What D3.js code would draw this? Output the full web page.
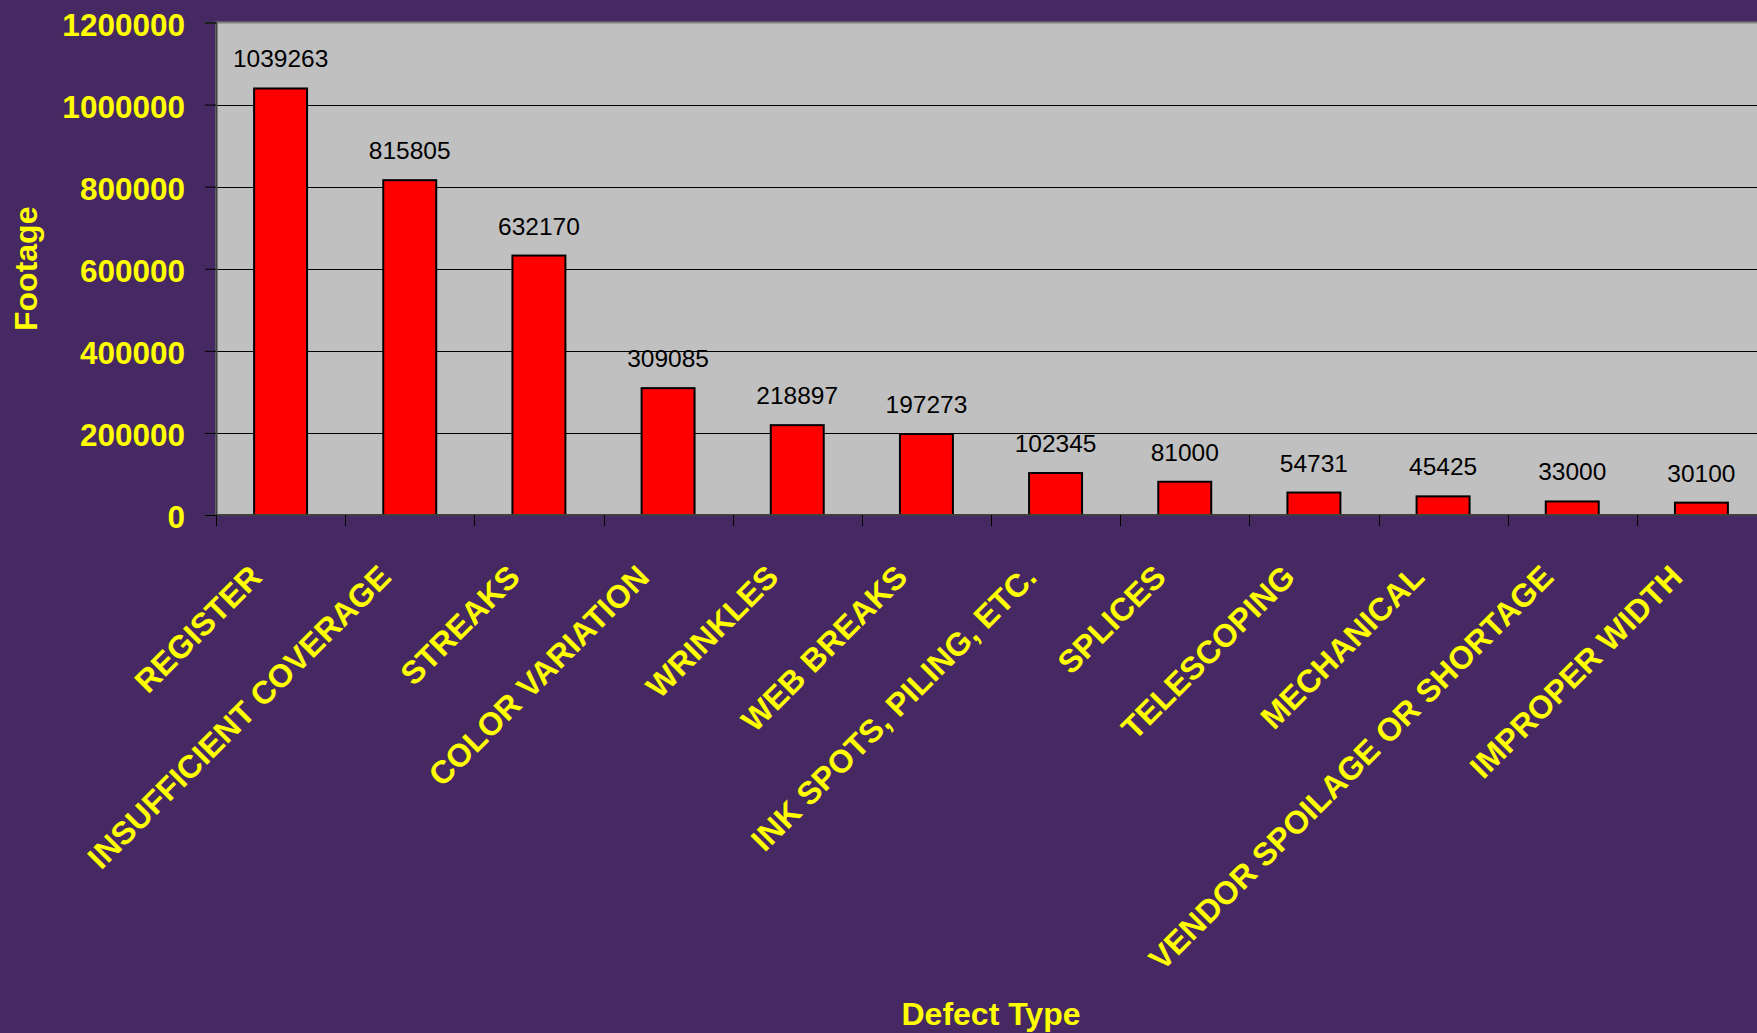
<!DOCTYPE html>
<html>
<head>
<meta charset="utf-8">
<script src="https://cdn.jsdelivr.net/npm/d3@7"></script>
<style>
  html, body { margin: 0; padding: 0; background: #462862; overflow: hidden; }
  text { font-family: "Liberation Sans", Arial, sans-serif; }
</style>
</head>
<body>
<div id="chart"></div>
<script>
var categories = ["REGISTER", "INSUFFICIENT COVERAGE", "STREAKS", "COLOR VARIATION", "WRINKLES",
  "WEB BREAKS", "INK SPOTS, PILING, ETC.", "SPLICES", "TELESCOPING", "MECHANICAL",
  "VENDOR SPOILAGE OR SHORTAGE", "IMPROPER WIDTH"];
var footage = [1039263, 815805, 632170, 309085, 218897, 197273, 102345, 81000, 54731, 45425, 33000, 30100];
var yTicks = [0, 200000, 400000, 600000, 800000, 1000000, 1200000];

var WIDTH = 1757, HEIGHT = 1033;
var plotLeft = 216, plotRight = 1766, plotTop = 22.5, plotBottom = 515;

var svg = d3.select("#chart").append("svg")
  .attr("width", WIDTH)
  .attr("height", HEIGHT);

svg.append("rect")
  .attr("width", WIDTH).attr("height", HEIGHT)
  .attr("fill", "#462862");

var x = d3.scaleBand()
  .domain(categories)
  .range([plotLeft, plotRight]);

var y = d3.scaleLinear()
  .domain([0, 1200000])
  .range([plotBottom, plotTop]);

// plot area
svg.append("rect")
  .attr("x", plotLeft).attr("y", plotTop)
  .attr("width", plotRight - plotLeft).attr("height", plotBottom - plotTop)
  .attr("fill", "#c0c0c0")
  .attr("stroke", "#808080")
  .attr("stroke-width", 2);

// gridlines
svg.append("g")
  .selectAll("line")
  .data(yTicks.filter(function(d) { return d > 0 && d < 1200000; }))
  .enter().append("line")
  .attr("x1", plotLeft).attr("x2", plotRight)
  .attr("y1", function(d) { return Math.round(y(d)) + 0.5; })
  .attr("y2", function(d) { return Math.round(y(d)) + 0.5; })
  .attr("stroke", "#000")
  .attr("stroke-width", 1);

// bars
var barW = x.bandwidth() * 0.41;
svg.append("g")
  .selectAll("rect")
  .data(footage)
  .enter().append("rect")
  .attr("x", function(d, i) { return x(categories[i]) + (x.bandwidth() - barW) / 2; })
  .attr("y", function(d) { return y(d); })
  .attr("width", barW)
  .attr("height", function(d) { return plotBottom - y(d); })
  .attr("fill", "#ff0000")
  .attr("stroke", "#000")
  .attr("stroke-width", 2);

// value labels
svg.append("g")
  .selectAll("text")
  .data(footage)
  .enter().append("text")
  .attr("x", function(d, i) { return x(categories[i]) + x.bandwidth() / 2; })
  .attr("y", function(d) { return y(d) - 21; })
  .attr("text-anchor", "middle")
  .attr("font-size", "24.5px")
  .attr("fill", "#000")
  .text(function(d) { return d; });

// y axis
var yAxis = svg.append("g")
  .attr("transform", "translate(" + plotLeft + ",0)")
  .call(d3.axisLeft(y).tickValues(yTicks).tickSize(11).tickPadding(20).tickFormat(d3.format("d")));
yAxis.select(".domain").attr("stroke", "#404040").attr("stroke-width", 2);
yAxis.selectAll(".tick line").attr("stroke", "#000");
yAxis.selectAll(".tick text")
  .attr("fill", "#ffff00")
  .attr("font-size", "31.5px")
  .attr("font-weight", "bold")
  .attr("font-family", "'Liberation Sans', Arial, sans-serif")
  .attr("dy", "12.5px");

// x axis line and ticks at category boundaries
svg.append("line")
  .attr("x1", plotLeft).attr("x2", plotRight)
  .attr("y1", plotBottom).attr("y2", plotBottom)
  .attr("stroke", "#404040").attr("stroke-width", 2);

svg.append("g")
  .selectAll("line")
  .data(categories)
  .enter().append("line")
  .attr("x1", function(d) { return Math.round(x(d)) + 0.5; })
  .attr("x2", function(d) { return Math.round(x(d)) + 0.5; })
  .attr("y1", plotBottom).attr("y2", plotBottom + 11)
  .attr("stroke", "#000");

// category labels, rotated
svg.append("g")
  .selectAll("text")
  .data(categories)
  .enter().append("text")
  .attr("transform", function(d) {
    return "translate(" + (x(d) + x.bandwidth() / 2 - 17) + "," + 579 + ") rotate(-45)";
  })
  .attr("text-anchor", "end")
  .attr("font-size", "32px")
  .attr("font-weight", "bold")
  .attr("fill", "#ffff00")
  .text(function(d) { return d; });

// axis titles
svg.append("text")
  .attr("x", (plotLeft + plotRight) / 2)
  .attr("y", 1025)
  .attr("text-anchor", "middle")
  .attr("font-size", "32px")
  .attr("font-weight", "bold")
  .attr("fill", "#ffff00")
  .text("Defect Type");

svg.append("text")
  .attr("transform", "translate(37," + ((plotTop + plotBottom) / 2) + ") rotate(-90)")
  .attr("text-anchor", "middle")
  .attr("font-size", "32px")
  .attr("font-weight", "bold")
  .attr("fill", "#ffff00")
  .text("Footage");
</script>
</body>
</html>
